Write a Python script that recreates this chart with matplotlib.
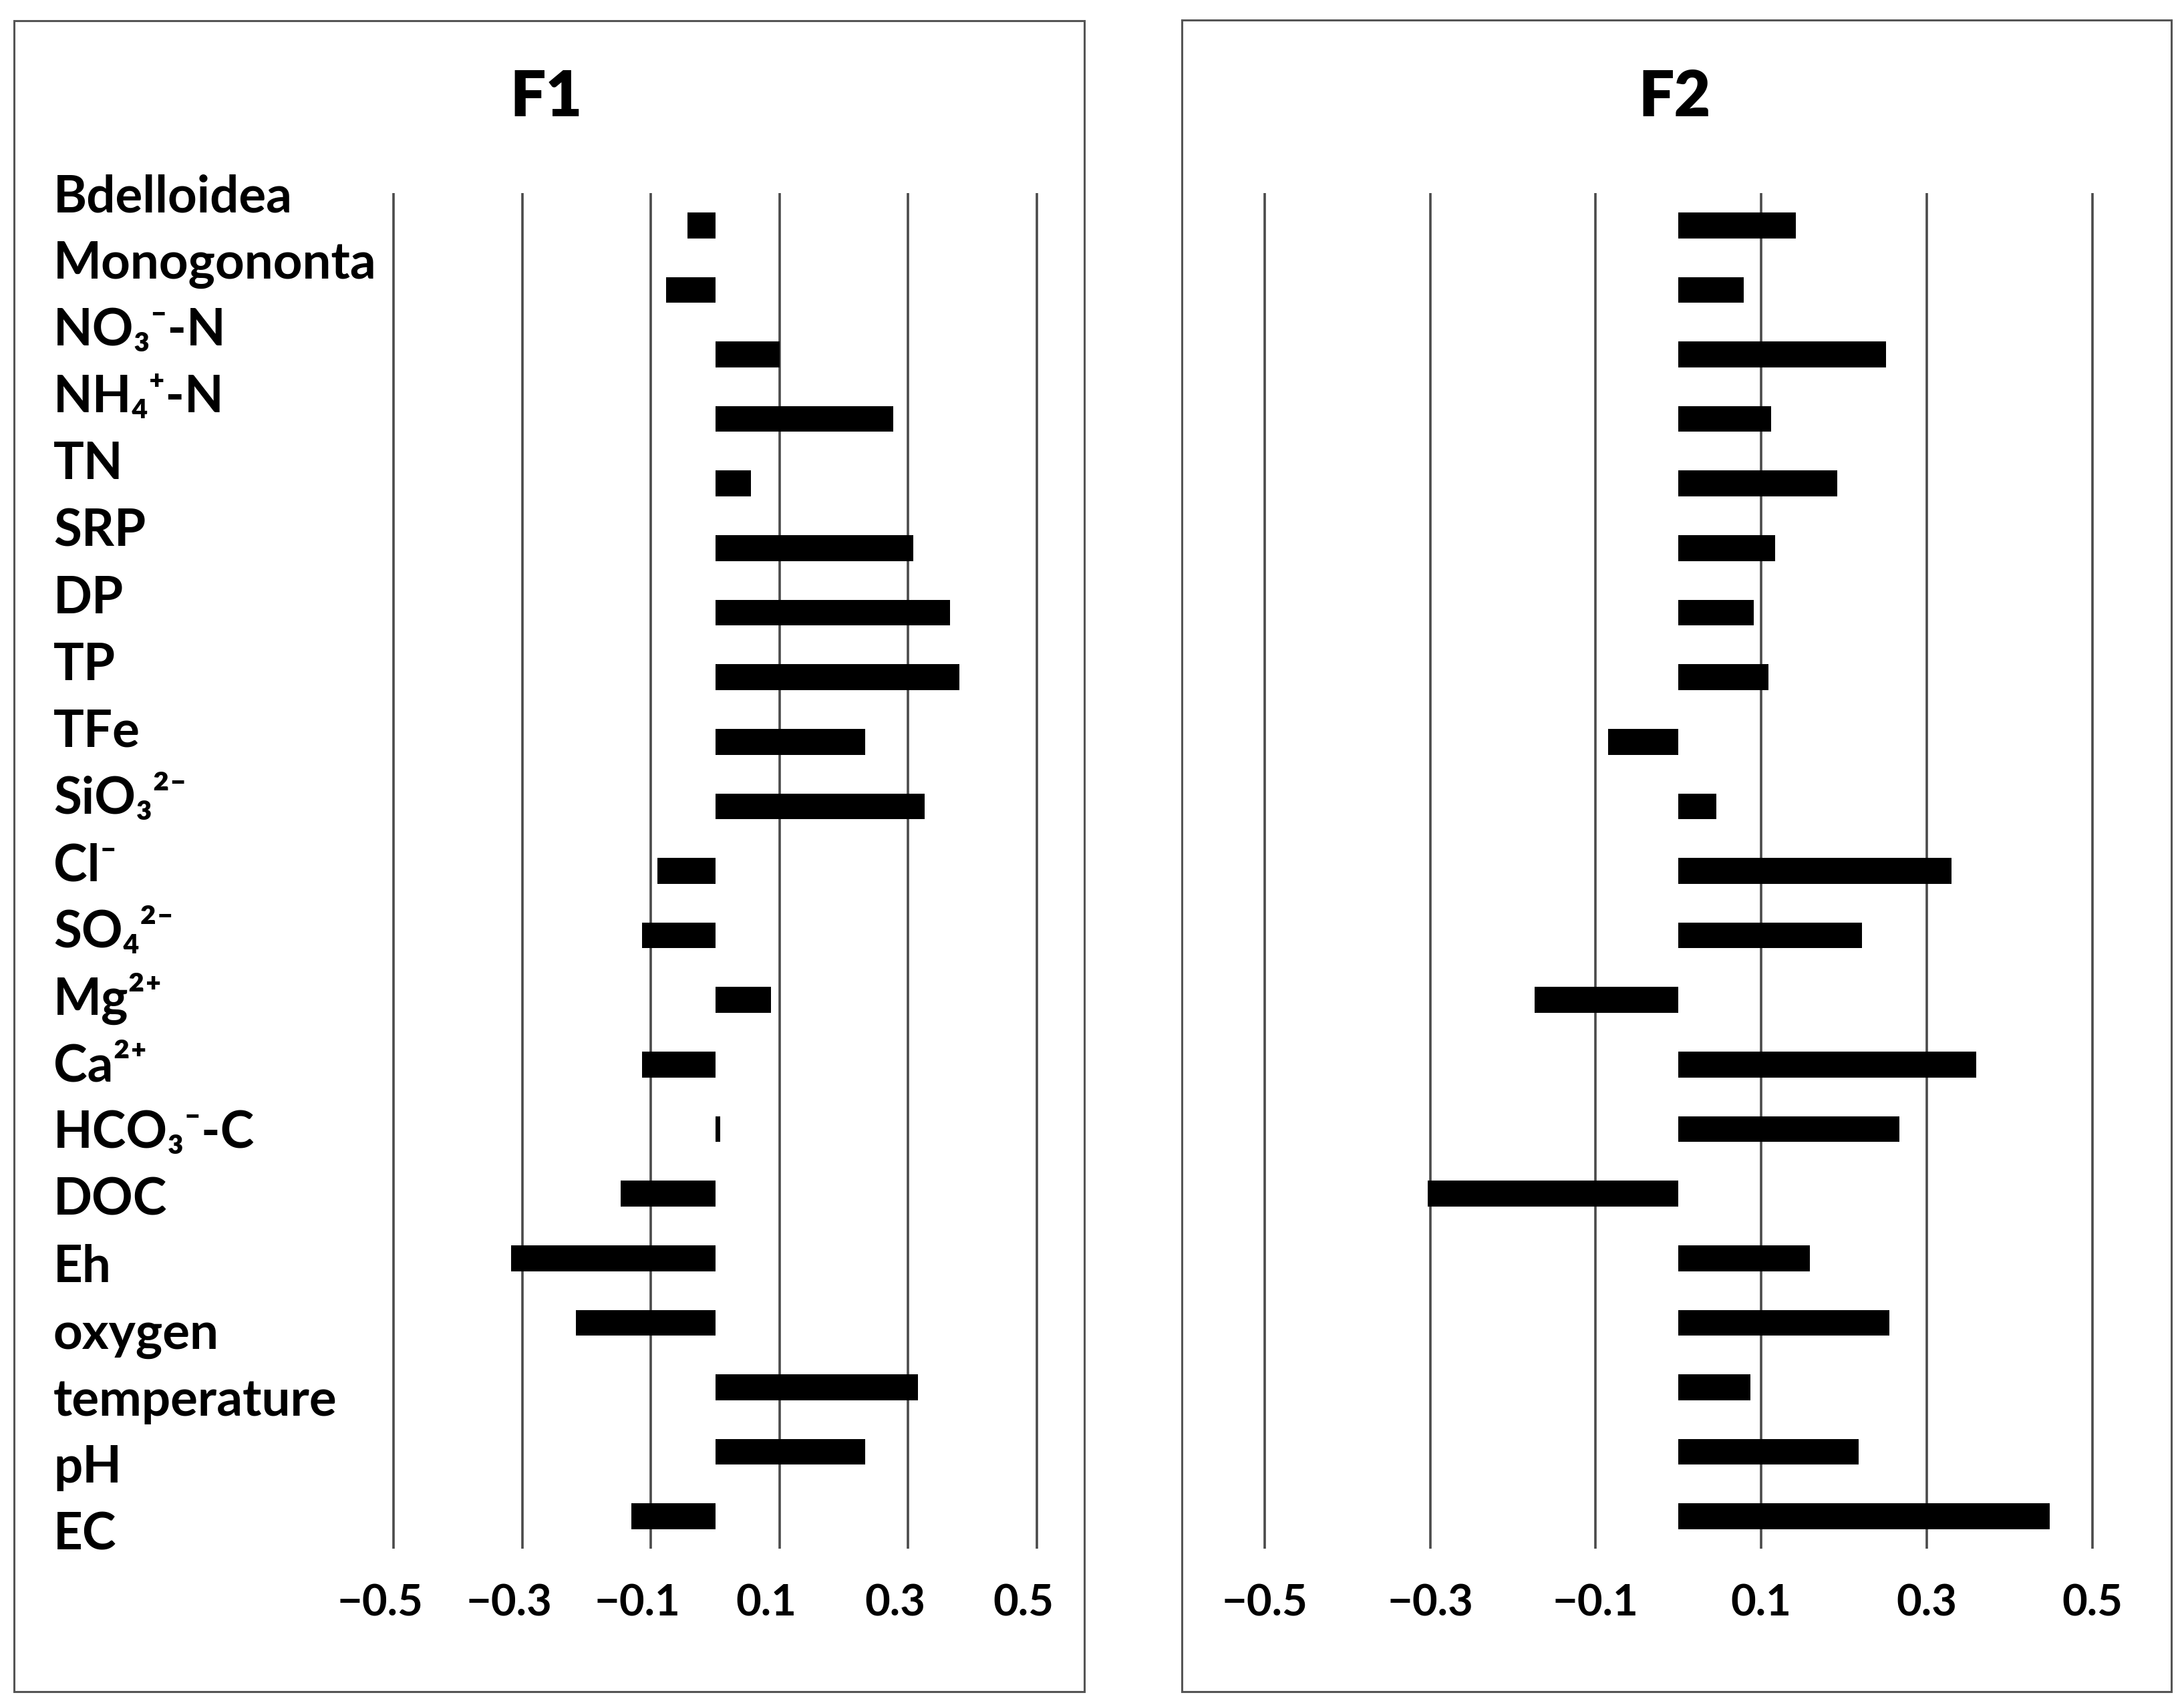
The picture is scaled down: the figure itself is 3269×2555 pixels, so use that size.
import matplotlib
matplotlib.use("Agg")
import matplotlib.pyplot as plt
from matplotlib.patches import Rectangle
from matplotlib.transforms import ScaledTranslation

# ---------------- data ----------------
variables = ["Bdelloidea", "Monogononta", "NO₃⁻-N", "NH₄⁺-N", "TN", "SRP", "DP", "TP",
             "TFe", "SiO₃²⁻", "Cl⁻", "SO₄²⁻", "Mg²⁺", "Ca²⁺", "HCO₃⁻-C", "DOC", "Eh",
             "oxygen", "temperature", "pH", "EC"]
f1_values = [-0.043, -0.076, 0.100, 0.277, 0.056, 0.308, 0.365, 0.380,
             0.233, 0.325, -0.090, -0.114, 0.087, -0.114, 0.008, -0.147, -0.317,
             -0.216, 0.315, 0.233, -0.130]
f2_values = [0.142, 0.079, 0.251, 0.112, 0.192, 0.117, 0.091, 0.109,
             -0.085, 0.046, 0.330, 0.222, -0.174, 0.360, 0.267, -0.303, 0.159,
             0.255, 0.087, 0.218, 0.449]
panel_titles = ["F1", "F2"]
tick_values = [-0.5, -0.3, -0.1, 0.1, 0.3, 0.5]
tick_labels = ["−0.5", "−0.3", "−0.1", "0.1", "0.3", "0.5"]

# ---------------- layout ----------------
W, H = 3269, 2555
fig = plt.figure(figsize=(W / 100, H / 100), dpi=100)
fig.patch.set_facecolor("white")
FAM = ["Lato", "DejaVu Sans"]


def rect(left, top, right, bottom):
    return [left / W, 1 - bottom / H, (right - left) / W, (bottom - top) / H]


GRID_C = "#4a4a4a"
BORDER_C = "#555555"

# panel borders
for (l, t, r, b) in [(21, 31, 1623, 2532), (1769, 30, 3250, 2532)]:
    fig.patches.append(Rectangle((l / W, 1 - b / H), (r - l) / W, (b - t) / H,
                                 transform=fig.transFigure, fill=False,
                                 edgecolor=BORDER_C, linewidth=2.2, zorder=0))

axes_specs = [
    (rect(569.7, 289, 1571.3, 2318), f1_values, 818, -0.20),
    (rect(1868.2, 289, 3156.3, 2318), f2_values, 2507, 0.0),
]

n = len(variables)
ypos = list(range(n))
for (r, vals, title_x, xshift), title in zip(axes_specs, panel_titles):
    ax = fig.add_axes(r)
    ax.barh(ypos, vals, height=0.40, left=0, color="black", zorder=3)
    ax.set_xlim(-0.52, 0.52)
    ax.set_ylim(n - 0.5, -0.5)
    ax.set_xticks(tick_values)
    ax.set_xticklabels(tick_labels)
    ax.set_yticks([])
    ax.tick_params(axis="x", length=0, pad=38)
    for lab in ax.get_xticklabels():
        lab.set_fontsize(47)
        lab.set_fontweight("bold")
        lab.set_family(FAM)
        if xshift:
            lab.set_transform(lab.get_transform() +
                              ScaledTranslation(xshift, 0, fig.dpi_scale_trans))
    ax.grid(axis="x", color=GRID_C, linewidth=2.6, zorder=1)
    ax.set_axisbelow(True)
    for s in ax.spines.values():
        s.set_visible(False)
    ax.patch.set_alpha(0)
    fig.text(title_x / W, 1 - 146 / H, title, ha="center", va="center",
             fontsize=68, fontweight="heavy", family=FAM)

# variable labels column (own row spacing)
lab_ax = fig.add_axes(rect(80, 267, 560, 267 + 21 * 100.1))
lab_ax.set_xlim(0, 1)
lab_ax.set_ylim(n - 0.5, -0.5)
lab_ax.axis("off")
for i, v in enumerate(variables):
    lab_ax.text(0, i, v, ha="left", va="baseline", fontsize=55,
                fontweight="bold", family=FAM, transform=lab_ax.transData)

fig.savefig("out.png", dpi=100, facecolor="white")
